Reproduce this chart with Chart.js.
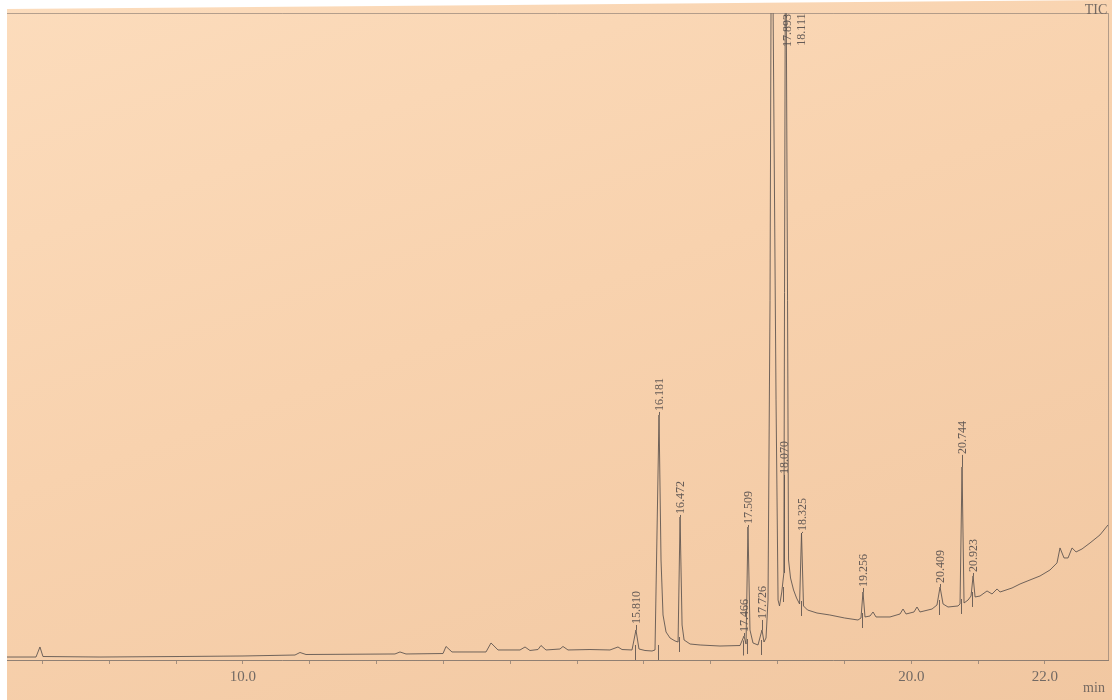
<!DOCTYPE html>
<html>
<head>
<meta charset="utf-8">
<script src="https://cdn.jsdelivr.net/npm/chart.js@4/dist/chart.umd.min.js"></script>
<style>
	html, body { margin: 0; padding: 0; background: #ffffff; }
	#paper {
		position: absolute; left: 0; top: 0; width: 1112px; height: 700px;
		background: linear-gradient(160deg, #fcdcbc 0%, #f8d2ae 45%, #f1c7a1 100%);
		clip-path: polygon(7px 9px, 1112px 0px, 1112px 700px, 7px 700px);
	}
	#chart-tic { position: absolute; left: 0; top: 0; }
</style>
</head>
<body>
<div id="paper"></div>
<canvas id="chart-tic" width="1112" height="700"></canvas>
<script>
// Trace (retention time in min, relative intensity)
const TRACE_TIMES = [
	6.469, 6.903, 6.962, 7.007, 7.860, 9.057, 10.000, 10.778, 10.853, 10.943,
	12.274, 12.349, 12.439, 12.993, 13.038, 13.127, 13.636, 13.711, 13.816, 14.145,
	14.220, 14.294, 14.414, 14.459, 14.534, 14.743, 14.788, 14.863, 15.192, 15.491,
	15.611, 15.671, 15.821, 15.880, 15.925, 16.015, 16.120, 16.165, 16.225, 16.255,
	16.285, 16.330, 16.390, 16.465, 16.510, 16.540, 16.570, 16.600, 16.690, 16.840,
	17.137, 17.437, 17.497, 17.527, 17.556, 17.586, 17.631, 17.706, 17.766, 17.796,
	17.826, 17.856, 17.886, 17.909, 17.931, 17.976, 18.006, 18.028, 18.062, 18.093,
	18.119, 18.148, 18.163, 18.193, 18.238, 18.283, 18.328, 18.357, 18.387, 18.447,
	18.589, 18.780, 19.003, 19.202, 19.247, 19.277, 19.307, 19.382, 19.427, 19.472,
	19.681, 19.831, 19.876, 19.921, 20.040, 20.085, 20.130, 20.310, 20.384, 20.430,
	20.475, 20.549, 20.699, 20.729, 20.759, 20.789, 20.849, 20.894, 20.924, 20.954,
	21.028, 21.133, 21.208, 21.283, 21.328, 21.507, 21.627, 21.776, 21.926, 22.075,
	22.180, 22.225, 22.285, 22.345, 22.405, 22.465, 22.554, 22.674, 22.823, 22.943,
];
const TRACE_VALUES = [
	0.46, 0.46, 2.01, 0.54, 0.46, 0.54, 0.62, 0.77, 1.16, 0.85,
	0.93, 1.24, 0.93, 1.00, 2.09, 1.24, 1.24, 2.63, 1.55, 1.55,
	2.01, 1.47, 1.62, 2.24, 1.55, 1.70, 2.09, 1.55, 1.62, 1.55,
	2.01, 1.62, 1.55, 4.64, 1.70, 1.47, 1.39, 1.55, 37.87, 15.46,
	6.96, 4.33, 3.40, 2.94, 2.78, 22.10, 5.41, 3.09, 2.47, 2.32,
	2.16, 2.24, 3.71, 2.47, 20.56, 4.64, 2.63, 2.32, 4.64, 2.78,
	3.40, 9.27, 55.6, 125, 102, 40.2, 9.27, 8.35, 10.51, 13.45,
	125, 55.6, 15.46, 12.67, 10.82, 9.58, 8.66, 19.63, 8.35, 7.73,
	7.26, 6.96, 6.49, 6.18, 6.49, 10.51, 6.65, 6.80, 7.42, 6.65,
	6.65, 7.11, 7.88, 7.11, 7.42, 8.19, 7.42, 7.88, 8.50, 11.28,
	8.66, 8.19, 8.35, 8.66, 29.83, 8.81, 9.27, 9.89, 12.99, 9.74,
	9.89, 10.67, 10.20, 10.98, 10.51, 11.13, 11.75, 12.37, 12.99, 13.91,
	15.00, 17.32, 15.77, 15.77, 17.32, 16.70, 17.16, 18.09, 19.33, 20.87,
];

// Peak annotations
const PEAK_LABELS = ["15.810", "16.181", "16.472", "17.466", "17.509", "17.726", "17.893", "18.070", "18.111", "18.325", "19.256", "20.409", "20.744", "20.923"];
const PEAK_TIMES = [15.880, 16.225, 16.540, 17.497, 17.556, 17.766, 18.147, 18.093, 18.349, 18.357, 19.277, 20.430, 20.759, 20.924];
const LABEL_LEVELS = [5.41, 38.34, 22.42, 4.17, 20.87, 6.18, 94.6, 28.6, 94.8, 19.8, 11.13, 11.75, 31.7, 13.45];
const LEADER_ON = [true, true, true, true, true, true, false, true, false, true, true, true, true, true];

// Axis
const X_MIN = 6.469;
const X_MAX = 22.943;
const TICK_VALUES = [7, 8, 9, 10, 11, 12, 13, 14, 15, 16, 17, 18, 19, 20, 21, 22];
const TICK_LABELS = [10, 20, 22];

const INK = "rgba(88, 80, 76, 0.85)";
const TEXT_INK = "rgba(84, 78, 76, 0.9)";
const SERIF = "'Liberation Serif', 'DejaVu Serif', serif";

// value of the trace nearest to a time
const traceAt = (t) => {
	let best = 0;
	TRACE_TIMES.forEach((v, i) => {
		if (Math.abs(v - t) < Math.abs(TRACE_TIMES[best] - t)) best = i;
	});
	return TRACE_VALUES[best];
};

const peakLabelsPlugin = {
	id: "peakLabels",
	afterDatasetsDraw(chart) {
		const { ctx, chartArea, scales } = chart;
		const x = scales.x;
		const y = scales.y;

		ctx.save();
		// frame
		ctx.strokeStyle = "rgba(120, 110, 104, 0.55)";
		ctx.lineWidth = 1;
		ctx.beginPath();
		ctx.moveTo(chartArea.left, chartArea.top + 0.5);
		ctx.lineTo(chartArea.right + 0.5, chartArea.top + 0.5);
		ctx.lineTo(chartArea.right + 0.5, chartArea.bottom);
		ctx.stroke();

		// retention time labels
		ctx.font = "12px " + SERIF;
		ctx.fillStyle = TEXT_INK;
		ctx.strokeStyle = INK;
		PEAK_LABELS.forEach((label, i) => {
			const px = Math.round(x.getPixelForValue(PEAK_TIMES[i])) + 0.5;
			const base = y.getPixelForValue(LABEL_LEVELS[i]);
			if (LEADER_ON[i]) {
				const top = y.getPixelForValue(traceAt(PEAK_TIMES[i]));
				if (top > base) {
					ctx.beginPath();
					ctx.moveTo(px, base);
					ctx.lineTo(px, top);
					ctx.stroke();
				}
				// integration marker through the baseline
				const foot = Math.min(traceAt(PEAK_TIMES[i] - 0.04), traceAt(PEAK_TIMES[i] + 0.04));
				const fy = y.getPixelForValue(foot);
				ctx.beginPath();
				ctx.moveTo(px - 1, fy - 5);
				ctx.lineTo(px - 1, Math.min(fy + 10, chartArea.bottom + 4));
				ctx.stroke();
			}
			ctx.save();
			ctx.translate(px, base);
			ctx.rotate(-Math.PI / 2);
			ctx.textAlign = "left";
			ctx.textBaseline = "middle";
			ctx.fillText(label, 1, 0);
			ctx.restore();
		});

		// corner texts
		ctx.font = "14px " + SERIF;
		ctx.fillStyle = "rgba(95, 88, 86, 0.85)";
		ctx.textAlign = "center";
		ctx.textBaseline = "middle";
		ctx.fillText("TIC", 1096, 10);
		ctx.fillText("min", 1094, 688);
		ctx.restore();
	},
};

const CHART_DATA = {
	datasets: [
		{
			label: "TIC",
			data: TRACE_TIMES.map((t, i) => ({ x: t, y: TRACE_VALUES[i] })),
			borderColor: INK,
			borderWidth: 1,
			pointRadius: 0,
			tension: 0,
			fill: false,
		},
	],
};

const CHART_CONFIG = {
	type: "line",
	data: CHART_DATA,
	options: {
		responsive: false,
		animation: false,
		devicePixelRatio: 1,
		layout: {
			padding: { left: 7, right: 4, top: 13, bottom: 0 },
		},
		scales: {
			x: {
				type: "linear",
				min: X_MIN,
				max: X_MAX,
				afterFit: (scale) => {
					scale.height = 40;
				},
				afterBuildTicks: (scale) => {
					scale.ticks = TICK_VALUES.map((v) => ({ value: v }));
				},
				border: {
					display: true,
					color: "rgba(110, 102, 98, 0.75)",
					width: 1,
				},
				grid: {
					drawOnChartArea: false,
					drawTicks: true,
					tickLength: 4,
					color: "rgba(110, 102, 98, 0.6)",
				},
				ticks: {
					autoSkip: false,
					maxRotation: 0,
					padding: 4,
					color: "rgba(100, 94, 92, 0.9)",
					font: { family: SERIF, size: 15 },
					callback: (value) => (TICK_LABELS.includes(value) ? value.toFixed(1) : ""),
				},
			},
			y: {
				display: false,
				min: 0,
				max: 100,
			},
		},
		plugins: {
			legend: { display: false },
			tooltip: { enabled: false },
		},
	},
	plugins: [peakLabelsPlugin],
};

const CHART_WRAPPER = document.getElementById("chart-tic");
if (CHART_WRAPPER) {
	new Chart(CHART_WRAPPER, CHART_CONFIG);
}
</script>
</body>
</html>
